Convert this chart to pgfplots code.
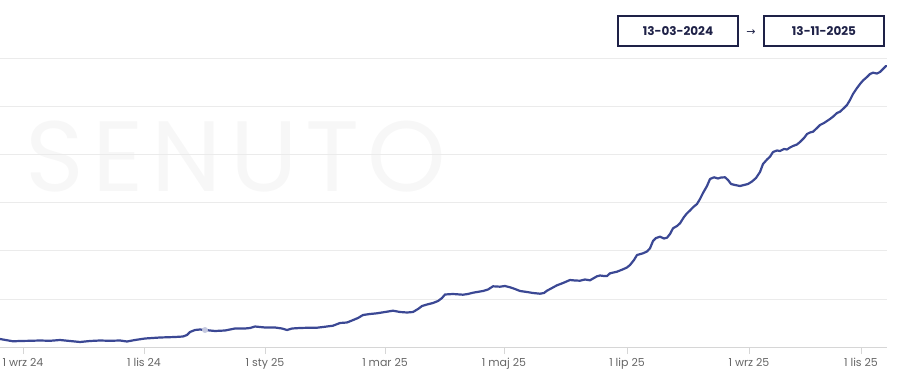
\documentclass[border=0pt]{standalone}
\usepackage{pgfplots}
\pgfplotsset{compat=1.18}
\usepackage{fontspec}
\setmainfont{Poppins}
\newfontfamily\dejavu{DejaVu Sans}
\definecolor{lineblue}{HTML}{3B4894}
\definecolor{navy}{HTML}{1E2147}
\definecolor{gridgray}{HTML}{EBEBEB}
\definecolor{axisgray}{HTML}{D6D6D6}
\definecolor{labelgray}{HTML}{666666}
\definecolor{wm}{HTML}{F7F7F7}
\begin{document}
\begin{tikzpicture}[x=1pt,y=1pt]
\path[use as bounding box] (0,0) rectangle (905,383);
\node[text=wm, font=\fontsize{100}{100}\selectfont\addfontfeature{LetterSpace=8}, anchor=center, inner sep=0pt] at (236,226) {SENUTO};
\begin{axis}[at={(0,36)}, anchor=south west, scale only axis,
  width=887pt, height=288pt,
  xmin=0, xmax=887, ymin=0, ymax=288,
  axis x line*=bottom, axis y line*=left,
  y axis line style={draw=none}, ytick style={draw=none}, yticklabels={},
  ytick={48,96,144,192,240,288}, ymajorgrids,
  grid style={gridgray, line width=1pt},
  xtick={23,144,265,385,504,627,749,861},
  xticklabels={1 wrz 24,1 lis 24,1 sty 25,1 mar 25,1 maj 25,1 lip 25,1 wrz 25,1 lis 25},
  tick align=outside, major tick length=7pt,
  x axis line style={axisgray, line width=1pt},
  xtick style={axisgray, line width=0.8pt},
  tick label style={font=\fontsize{11}{13}\selectfont, text=labelgray},
  xticklabel style={yshift=-1pt},
  clip=false]
\addplot[lineblue, line width=2.2pt, line join=round, line cap=round] coordinates {
(0,8) (13,5.7) (20,6) (30,6.2) (40,6.5) (50,6.2) (60,7) (70,6) (80,5) (90,6)
(100,6.5) (110,6.2) (120,6.5) (127,5.5) (135,7) (145,8.5) (160,9.5) (175,10)
(183,10.5) (187,12) (190,15) (195,17) (200,17.5) (205,17) (210,16.5) (215,16)
(225,16.5) (230,17.5) (235,18.5) (245,18.5) (250,19) (255,20.5) (260,20)
(265,19.5) (275,19.5) (282,18.5) (287,17) (292,18.5) (300,19) (310,19.3)
(317,19.3) (323,20) (333,21.3) (340,24) (347,24.5) (352,26.5) (358,29) (363,32)
(370,33) (377,33.7) (385,35) (393,36.3) (400,35) (407,34.5) (413,35) (418,38)
(422,41) (427,42.5) (433,44) (438,46) (442,49) (445,52.5) (453,53) (463,52.3)
(468,53) (473,54.3) (483,56) (488,57.5) (493,60.7) (500,60.3) (505,61)
(510,59.7) (515,58) (520,56) (527,55) (533,54) (540,53.3) (544,54) (547,56.3)
(552,59) (557,61.7) (563,64) (570,67) (575,66.5) (580,66.3) (585,67.5)
(590,66.7) (594,69) (597,70.7) (600,71.5) (604,71) (607,71) (610,73.7)
(617,75.3) (623,77.7) (627,79.5) (630,82) (634,87) (637,92) (643,93.7)
(647,95.5) (650,98.7) (653,106) (656,109) (660,110.3) (664,108.5) (667,109.3)
(670,113) (673,118.7) (677,121) (680,123.7) (684,130) (687,133.7) (690,136.5)
(693,139.7) (697,143) (700,148) (703,154) (707,161) (710,168) (714,169.7)
(718,168.5) (721,169.5) (725,169.7) (728,167) (731,163) (735,162) (740,161)
(744,162) (748,163) (752,165.5) (756,169) (760,175) (763,183) (767,187.5)
(770,190.3) (773,195) (777,196.5) (780,196) (784,198) (787,197.5) (790,199.5)
(793,201) (797,202.5) (800,205) (804,209) (807,213) (810,214.5) (813,215.3)
(817,219) (820,222) (824,224) (827,226) (830,228) (833,230.3) (837,234)
(840,235.3) (844,239) (847,242) (850,247) (853,253) (857,259) (860,263)
(863,266.5) (867,270) (870,273) (873,274.3) (877,273.5) (880,275) (883,278)
(886,281)
};
\addplot[only marks, mark=*, mark size=3pt, color=lineblue!30, draw opacity=0] coordinates {(205,17)};
\end{axis}
\node[draw=navy, line width=1.2pt, minimum width=120pt, minimum height=30pt, inner sep=0pt,
  font=\fontsize{12}{14}\selectfont\bfseries, text=navy] at (678,352) {13-03-2024};
\node[draw=navy, line width=1.2pt, minimum width=120pt, minimum height=30pt, inner sep=0pt,
  font=\fontsize{12}{14}\selectfont\bfseries, text=navy] at (824,352) {13-11-2025};
\node[font=\dejavu\fontsize{11}{13}\selectfont, text=navy] at (751,350) {→};
\end{tikzpicture}
\end{document}
